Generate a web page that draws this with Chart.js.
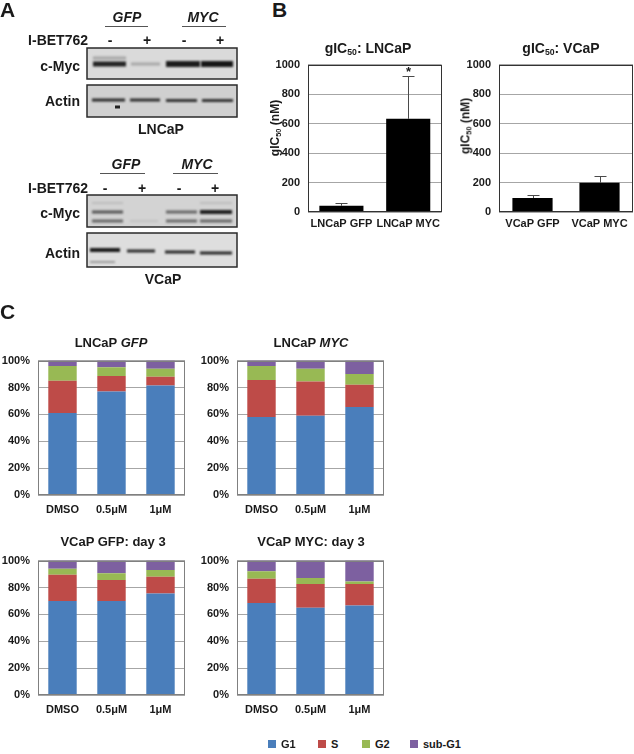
<!DOCTYPE html>
<html>
<head>
<meta charset="utf-8">
<script src="https://cdn.jsdelivr.net/npm/chart.js@4.4.1/dist/chart.umd.min.js"></script>
<style>
  body { margin: 0; background: #fff; }
  #fig { position: relative; width: 634px; height: 754px; overflow: hidden;
         font-family: "Liberation Sans", Arial, sans-serif; font-weight: bold; color: #1a1a1a; }
  .t { position: absolute; white-space: nowrap; line-height: 1; }
  .t sub { font-size: 0.62em; vertical-align: -0.25em; }
  canvas { position: absolute; }
  .hline { position: absolute; height: 1px; background: #555; }
  .key { position: absolute; width: 8px; height: 8px; }
</style>
</head>
<body>
<div id="fig">
  <canvas id="blots" width="250" height="300" style="left:0;top:0"></canvas>
</div>
<script>
// valores do painel B (gIC50 em nM)
const lncapLabels = ['LNCaP GFP', 'LNCaP MYC'];
const lncapIC50 = [42, 632];
const lncapErr = [18, 290];
const vcapLabels = ['VCaP GFP', 'VCaP MYC'];
const vcapIC50 = [95, 198];
const vcapErr = [23, 45];
const ic50Ticks = [0, 200, 400, 600, 800, 1000];

// valores do painel C (% de celulas em cada fase)
const doses = ['DMSO', '0.5μM', '1μM'];
const phases = ['G1', 'S', 'G2', 'sub-G1'];
const phaseColors = ['#4a7ebb', '#be4b48', '#98b954', '#7d60a0'];

const lncapGfpG1 = [61, 77, 81.5];
const lncapGfpS = [24, 11.5, 6.5];
const lncapGfpG2 = [11, 6.5, 6];
const lncapGfpSub = [4, 5, 6];

const lncapMycG1 = [58, 59, 65.5];
const lncapMycS = [27.5, 25.5, 16.5];
const lncapMycG2 = [10.5, 9.5, 8];
const lncapMycSub = [4, 6, 10];

const vcapGfpG1 = [70, 70, 75.5];
const vcapGfpS = [19.5, 15.5, 12.5];
const vcapGfpG2 = [4.5, 5, 5];
const vcapGfpSub = [6, 9.5, 7];

const vcapMycG1 = [68.5, 65, 66.5];
const vcapMycS = [18, 17.5, 16];
const vcapMycG2 = [5.5, 4.5, 2];
const vcapMycSub = [8, 13, 15.5];

const pctTicks = [0, 20, 40, 60, 80, 100];

const fig = document.getElementById('fig');
const FONT = '"Liberation Sans", Arial, sans-serif';
Chart.defaults.font.family = FONT;
Chart.defaults.color = '#1a1a1a';

// texto solto posicionado pelo centro (ou pela direita)
function label(html, x, y, size, anchor, extra) {
  const d = document.createElement('div');
  d.className = 't';
  d.innerHTML = html;
  d.style.left = x + 'px';
  d.style.top = y + 'px';
  d.style.fontSize = size + 'px';
  const tx = anchor === 'right' ? '-100%' : anchor === 'left' ? '0' : '-50%';
  d.style.transform = 'translate(' + tx + ', -50%)' + (extra || '');
  fig.appendChild(d);
  return d;
}

function hline(x1, x2, y) {
  const d = document.createElement('div');
  d.className = 'hline';
  d.style.left = x1 + 'px';
  d.style.top = y + 'px';
  d.style.width = (x2 - x1) + 'px';
  fig.appendChild(d);
}

// ---------- Painel A: western blots ----------
const bl = document.getElementById('blots').getContext('2d');

function membrane(x, y, w, h, shade) {
  bl.fillStyle = shade;
  bl.fillRect(x, y, w, h);
  bl.strokeStyle = '#2a2a2a';
  bl.lineWidth = 1.5;
  bl.strokeRect(x, y, w, h);
}

function band(x1, x2, y, h, color, blur) {
  bl.save();
  bl.filter = 'blur(' + (blur || 0.8) + 'px)';
  bl.fillStyle = color;
  bl.fillRect(x1, y - h / 2, x2 - x1, h);
  bl.restore();
}

// LNCaP
membrane(87, 48, 150, 31, '#dadada');
band(93, 126, 58, 3, '#a5a5a5', 1);
band(93, 126, 64, 5, '#202020');
band(131, 160, 64, 3, '#a8a8a8', 1.2);
band(166, 200, 64, 6, '#1c1c1c');
band(201, 233, 64, 6, '#161616');
membrane(87, 85, 150, 32, '#d0d0d0');
band(92, 125, 100, 3, '#2a2a2a');
band(130, 160, 100, 3, '#2e2e2e');
band(166, 197, 100.5, 3, '#333');
band(202, 233, 100.5, 3, '#333');
band(115, 120, 107, 3, '#222', 0.6);

// VCaP
membrane(87, 195, 150, 32, '#d3d3d3');
band(92, 123, 203, 2, '#bdbdbd', 1.2);
band(92, 123, 212, 3, '#555');
band(92, 123, 221, 3, '#666');
band(130, 158, 221, 2, '#c2c2c2', 1);
band(166, 197, 212, 3, '#666');
band(166, 197, 221, 3, '#6a6a6a');
band(200, 232, 203, 2, '#bdbdbd', 1.2);
band(200, 232, 212, 4, '#1e1e1e');
band(200, 232, 221, 3, '#666');
membrane(87, 233, 150, 34, '#dedede');
band(90, 120, 250, 4, '#1a1a1a');
band(90, 115, 262, 2, '#9a9a9a', 0.8);
band(127, 155, 251, 3, '#2a2a2a');
band(165, 195, 252, 3, '#262626');
band(200, 232, 253, 3, '#262626');

label('A', 0, 9, 21, 'left');
label('<i>GFP</i>', 127, 17, 14);
label('<i>MYC</i>', 203, 17, 14);
hline(105, 148, 26);
hline(182, 226, 26);
label('I-BET762', 88, 40, 14, 'right');
['-', '+', '-', '+'].forEach((s, i) => label(s, [110, 147, 184, 220][i], 40, 14));
label('c-Myc', 80, 66, 14, 'right');
label('Actin', 80, 101, 14, 'right');
label('LNCaP', 161, 129, 14);

label('<i>GFP</i>', 126, 164, 14);
label('<i>MYC</i>', 197, 164, 14);
hline(100, 145, 173);
hline(173, 218, 173);
label('I-BET762', 88, 188, 14, 'right');
['-', '+', '-', '+'].forEach((s, i) => label(s, [105, 142, 179, 215][i], 188, 14));
label('c-Myc', 80, 213, 14, 'right');
label('Actin', 80, 253, 14, 'right');
label('VCaP', 163, 279, 14);

label('B', 272, 9, 21, 'left');
label('C', 0, 311, 21, 'left');

// ---------- plugins ----------
const plotBox = {
  id: 'plotBox',
  afterDatasetsDraw(chart) {
    const a = chart.chartArea, ctx = chart.ctx;
    ctx.save();
    ctx.strokeStyle = chart.config.options.boxColor || '#666';
    ctx.lineWidth = 1;
    ctx.strokeRect(Math.round(a.left) + 0.5, Math.round(a.top) + 0.5,
      Math.round(a.right - a.left) - 1, Math.round(a.bottom - a.top) - 1);
    ctx.restore();
  }
};

const errorBars = {
  id: 'errorBars',
  afterDatasetsDraw(chart) {
    const ds = chart.data.datasets[0];
    if (!ds.errors) return;
    const meta = chart.getDatasetMeta(0), ys = chart.scales.y, ctx = chart.ctx;
    ctx.save();
    ctx.strokeStyle = '#4a4a4a';
    ctx.fillStyle = '#1a1a1a';
    ctx.lineWidth = 1;
    ctx.font = 'bold 13px ' + FONT;
    ctx.textAlign = 'center';
    meta.data.forEach((bar, i) => {
      const x = Math.round(bar.x) + 0.5;
      const y0 = ys.getPixelForValue(ds.data[i]);
      const y1 = Math.round(ys.getPixelForValue(ds.data[i] + ds.errors[i])) + 0.5;
      ctx.beginPath();
      ctx.moveTo(x, y0);
      ctx.lineTo(x, y1);
      ctx.moveTo(x - 6, y1);
      ctx.lineTo(x + 6, y1);
      ctx.stroke();
      if (ds.marks && ds.marks[i]) ctx.fillText(ds.marks[i], x, y1 - 1);
    });
    ctx.restore();
  }
};

// cria um canvas cujo plot area cai exatamente em (L,T,W,H)
function makeChart(L, T, W, H, yW, xH, padR, config) {
  const padT = 10;
  const c = document.createElement('canvas');
  c.width = yW + W + padR;
  c.height = padT + H + xH;
  c.style.left = (L - yW) + 'px';
  c.style.top = (T - padT) + 'px';
  fig.appendChild(c);
  config.options.responsive = false;
  config.options.animation = false;
  config.options.devicePixelRatio = 1;
  config.options.layout = { padding: { top: padT, right: padR, left: 0, bottom: 0 } };
  config.options.scales.y.afterFit = s => { s.width = yW; };
  config.options.scales.x.afterFit = s => { s.height = xH; };
  config.plugins = [plotBox, errorBars];
  return new Chart(c, config);
}

function axes(ticks, fmt, stacked, tickPad) {
  return {
    x: {
      stacked: stacked,
      offset: true,
      grid: { display: false, drawTicks: false },
      border: { display: false },
      ticks: { font: { size: 11, weight: 'bold' }, padding: tickPad, maxRotation: 0, autoSkip: false }
    },
    y: {
      stacked: stacked,
      min: ticks[0],
      max: ticks[ticks.length - 1],
      grid: { color: '#a6a6a6', drawTicks: false },
      border: { display: false },
      afterBuildTicks: s => { s.ticks = ticks.map(v => ({ value: v })); },
      ticks: { font: { size: 11, weight: 'bold' }, padding: 8, callback: fmt }
    }
  };
}

// ---------- Painel B ----------
function ic50Chart(L, labels, values, errs, marks, padR, barPct) {
  return makeChart(L, 60, 134, 152, 42, 24, padR, {
    type: 'bar',
    data: {
      labels: labels,
      datasets: [{
        data: values, errors: errs, marks: marks,
        backgroundColor: '#000', barPercentage: barPct, categoryPercentage: 1
      }]
    },
    options: {
      boxColor: '#333',
      plugins: { legend: { display: false }, tooltip: { enabled: false } },
      scales: axes(ic50Ticks, v => v, false, 5)
    }
  });
}

ic50Chart(308, lncapLabels, lncapIC50, lncapErr, ['', '*'], 4, 0.66);
ic50Chart(499, vcapLabels, vcapIC50, vcapErr, null, 1, 0.6);

label('gIC<sub>50</sub>: LNCaP', 368, 49, 14);
label('gIC<sub>50</sub>: VCaP', 561, 49, 14);
label('gIC<sub>50</sub> (nM)', 276, 128, 12, 'center', ' rotate(-90deg)');
label('gIC<sub>50</sub> (nM)', 466, 126, 12, 'center', ' rotate(-90deg)');

// ---------- Painel C ----------
function cycleChart(L, T, g1, s, g2, sub) {
  const series = [g1, s, g2, sub];
  return makeChart(L, T, 147, 139, 38, 24, 4, {
    type: 'bar',
    data: {
      labels: doses,
      datasets: series.map((d, i) => ({
        label: phases[i], data: d, backgroundColor: phaseColors[i],
        barPercentage: 0.58, categoryPercentage: 1
      }))
    },
    options: {
      boxColor: '#808080',
      plugins: { legend: { display: false }, tooltip: { enabled: false } },
      scales: axes(pctTicks, v => v + '%', true, 8)
    }
  });
}

cycleChart(38, 356, lncapGfpG1, lncapGfpS, lncapGfpG2, lncapGfpSub);
cycleChart(237, 356, lncapMycG1, lncapMycS, lncapMycG2, lncapMycSub);
cycleChart(38, 556, vcapGfpG1, vcapGfpS, vcapGfpG2, vcapGfpSub);
cycleChart(237, 556, vcapMycG1, vcapMycS, vcapMycG2, vcapMycSub);

label('LNCaP <i>GFP</i>', 111, 342, 13);
label('LNCaP <i>MYC</i>', 311, 342, 13);
label('VCaP GFP: day 3', 113, 541, 13);
label('VCaP MYC: day 3', 311, 541, 13);

// legenda
const keyX = [268, 318, 362, 410];
phases.forEach((p, i) => {
  const k = document.createElement('div');
  k.className = 'key';
  k.style.left = keyX[i] + 'px';
  k.style.top = '740px';
  k.style.background = phaseColors[i];
  fig.appendChild(k);
  label(p, keyX[i] + 13, 744, 11, 'left');
});
</script>
</body>
</html>
